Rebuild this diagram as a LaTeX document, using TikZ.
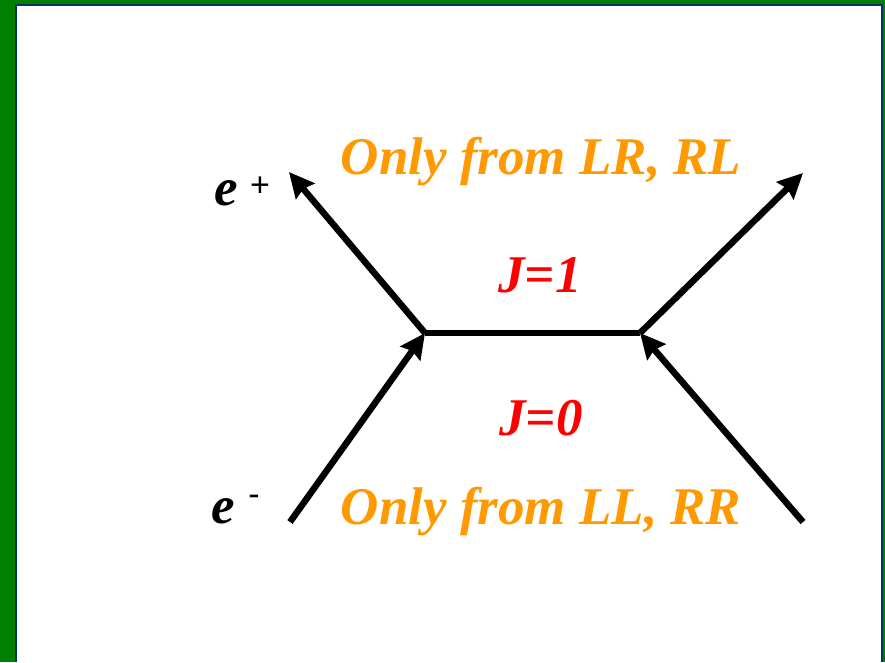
\documentclass[tikz,border=0pt]{standalone}
\usepackage{fontspec}
\setmainfont{Liberation Serif}
\setsansfont{Liberation Sans}
\usetikzlibrary{arrows.meta}
\definecolor{frameGreen}{RGB}{0,128,0}
\definecolor{frameBlue}{RGB}{0,51,102}
\definecolor{labOrange}{RGB}{255,153,0}
\definecolor{labRed}{RGB}{255,0,0}
\tikzset{
  line/.style={line width=6.5pt},
  arr/.style={line, -{Stealth[length=25pt,width=24pt,inset=3pt]}},
  lab/.style={font=\fontsize{53}{53}\selectfont\bfseries\itshape, inner sep=0pt, anchor=base},
  sup/.style={font=\fontsize{34}{34}\selectfont\sffamily, inner sep=0pt},
}
\begin{document}
\begin{tikzpicture}[x=1pt,y=-1pt]
\useasboundingbox (0,0) rectangle (885,662);
\fill[frameGreen] (0,0) rectangle (885,662);
\fill[frameBlue] (15,4) rectangle (883,662);
\fill[white] (17,6) rectangle (881,662);
\coordinate (L) at (425,333);
\coordinate (R) at (640,333);
\coordinate (UL) at (289,172);
\coordinate (LL) at (290,522);
\coordinate (UR) at (803,173);
\coordinate (LR) at (803,522);
\draw[line] (L) -- (R);
\draw[arr] (L) -- (UL);
\draw[arr] (LL) -- (L);
\draw[arr] (R) -- (UR);
\draw[arr] (LR) -- (R);
\node[lab, text=labOrange] (t1) at (541,174) {Only from LR, RL};
\node[lab, text=labOrange] (t2) at (541,524) {Only from LL, RR};
\node[lab, text=labRed] (j1) at (540,292) {J=1};
\node[lab, text=labRed] (j0) at (541,435) {J=0};
\node[lab] (ep) at (226,205) {e};
\node[sup] (pl) at (260,187) {+};
\node[lab] (em) at (223,523) {e};
\node[sup] (mi) at (254,500) {-};
\end{tikzpicture}
\end{document}
